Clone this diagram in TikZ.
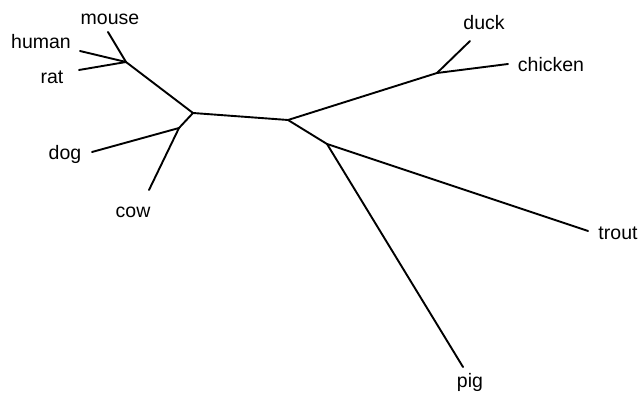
\documentclass[tikz,border=0pt]{standalone}
\usepackage{fontspec}
\setmainfont{Liberation Sans}
\begin{document}
\begin{tikzpicture}[x=1pt,y=-1pt,
  branch/.style={line width=1.9pt,black,line cap=round},
  taxon/.style={anchor=base,inner sep=0pt,text=black,font=\fontsize{19.5}{22}\selectfont}]
\useasboundingbox (0,0) rectangle (638,398);

% internal nodes of the tree
\coordinate (jA) at (126,62);
\coordinate (jB) at (193,113);
\coordinate (jC) at (179,128);
\coordinate (jD) at (288,120);
\coordinate (jE) at (437,73);
\coordinate (jF) at (327,144);

% branch tips
\coordinate (tMouse)   at (108,32);
\coordinate (tHuman)   at (80,51);
\coordinate (tRat)     at (79,70);
\coordinate (tDog)     at (92,152);
\coordinate (tCow)     at (149,190);
\coordinate (tDuck)    at (470,41);
\coordinate (tChicken) at (508,64);
\coordinate (tTrout)   at (588,231);
\coordinate (tPig)     at (463,367);

% taxon labels
\node[taxon] (mouse)   at (110,25)  {mouse};
\node[taxon] (human)   at (41,49)   {human};
\node[taxon] (rat)     at (52,84)   {rat};
\node[taxon] (dog)     at (65,160)  {dog};
\node[taxon] (cow)     at (133,218) {cow};
\node[taxon] (duck)    at (484,30)  {duck};
\node[taxon] (chicken) at (551,72)  {chicken};
\node[taxon] (trout)   at (618,240) {trout};
\node[taxon] (pig)     at (470,388) {pig};

% branches
\draw[branch] (jB) -- (jD);
\draw[branch] (jB) -- (jA);
\draw[branch] (jB) -- (jC);
\draw[branch] (jA) -- (tMouse);
\draw[branch] (jA) -- (tHuman);
\draw[branch] (jA) -- (tRat);
\draw[branch] (jC) -- (tDog);
\draw[branch] (jC) -- (tCow);
\draw[branch] (jD) -- (jE);
\draw[branch] (jD) -- (jF);
\draw[branch] (jE) -- (tDuck);
\draw[branch] (jE) -- (tChicken);
\draw[branch] (jF) -- (tTrout);
\draw[branch] (jF) -- (tPig);
\end{tikzpicture}
\end{document}
